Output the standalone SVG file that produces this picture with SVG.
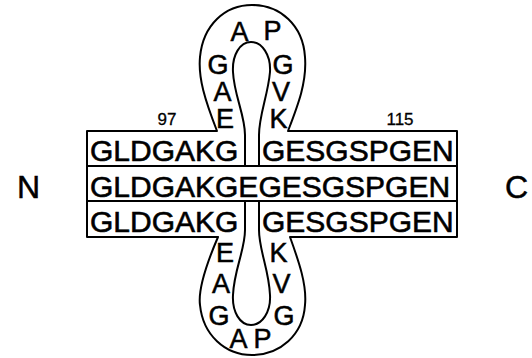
<svg xmlns="http://www.w3.org/2000/svg" width="532" height="358" viewBox="0 0 532 358">
<style>
.o{fill:none;stroke:#000;stroke-width:2;stroke-linejoin:round}
.r{font-family:"Liberation Sans",Arial,sans-serif;font-size:30px;fill:#000;stroke:#000;stroke-width:0.6}
.l{font-family:"Liberation Sans",Arial,sans-serif;font-size:27px;fill:#000;stroke:#000;stroke-width:0.5;text-anchor:middle}
.n{font-family:"Liberation Sans",Arial,sans-serif;font-size:17px;fill:#000;stroke:#000;stroke-width:0.3;text-anchor:middle}
.t{font-family:"Liberation Sans",Arial,sans-serif;font-size:32px;fill:#000;stroke:#000;stroke-width:0.5;text-anchor:middle}
</style>
<rect width="532" height="358" fill="#fff"/>
<g id="row1">
<path class="o" d="M87,131 H217 C205,100 198,78 200,57 C203,25 225,5 252,5 C280,5 303,25 305,57 C307,82 298,105 288,131 H457 V166 H259 V135 C259,115 268,95 270,72 C271,55 262,42 251,42 C240,42 232,55 233,72 C234,95 245,115 245,135 V166 H87 Z"/>
<text class="r" x="90" y="161">GLDGAKG</text>
<text class="r" x="262" y="161">GESGSPGEN</text>
<text class="l" x="239.5" y="41">A</text>
<text class="l" x="272.5" y="40">P</text>
<text class="l" x="218" y="74">G</text>
<text class="l" x="283" y="74">G</text>
<text class="l" x="222.5" y="101">A</text>
<text class="l" x="281" y="101">V</text>
<text class="l" x="225" y="128">E</text>
<text class="l" x="278.5" y="128">K</text>
</g>
<g id="row2">
<rect class="o" x="87" y="166" width="370" height="35"/>
<text class="r" x="90" y="197">GLDGAKGEGESGSPGEN</text>
</g>
<g id="row3">
<path class="o" d="M87,201 H245 V230 C245,250 234,270 233,295 C232,312 240,325 251,325 C262,325 271,312 270,295 C269,270 259,250 259,230 V201 H457 V237 H290 C299,262 307,285 305,305 C303,335 280,355 252,355 C225,355 203,335 200,305 C198,290 206,265 218,237 H87 Z"/>
<text class="r" x="90" y="232">GLDGAKG</text>
<text class="r" x="262" y="232">GESGSPGEN</text>
<text class="l" x="225" y="262">E</text>
<text class="l" x="278.5" y="262">K</text>
<text class="l" x="221" y="293">A</text>
<text class="l" x="281.5" y="293">V</text>
<text class="l" x="219" y="325">G</text>
<text class="l" x="284" y="325">G</text>
<text class="l" x="238.5" y="348">A</text>
<text class="l" x="262.5" y="348">P</text>
</g>
<g id="labels">
<text class="n" x="167" y="125">97</text>
<text class="n" x="400" y="125">115</text>
<text class="t" x="28.5" y="198">N</text>
<text class="t" x="516.5" y="198">C</text>
</g>
<g id="connectors"></g>
</svg>
